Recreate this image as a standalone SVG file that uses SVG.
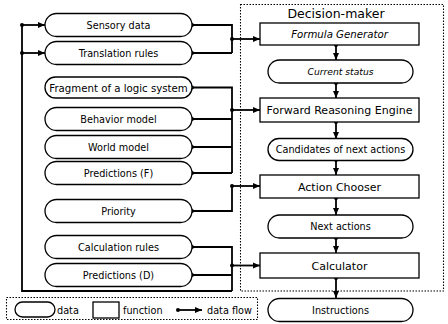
<svg xmlns="http://www.w3.org/2000/svg" width="448" height="324" viewBox="0 0 448 324">
<defs>
<marker id="arr" markerUnits="userSpaceOnUse" markerWidth="8" markerHeight="8" viewBox="0 0 8 8" refX="7" refY="4" orient="auto">
<path d="M0,1 L7,4 L0,7 Z" fill="#000"/>
</marker>
<marker id="dot" markerUnits="userSpaceOnUse" markerWidth="6" markerHeight="6" viewBox="0 0 6 6" refX="3" refY="3" orient="auto">
<circle cx="3" cy="3" r="2" fill="#000"/>
</marker>
</defs>
<style>
.data{fill:#fff;stroke:#000;stroke-width:1.3}
.func{fill:#fff;stroke:#000;stroke-width:1.3}
.t{font-family:"DejaVu Sans",sans-serif;font-size:9.7px;fill:#000;text-anchor:middle}
.tf{font-family:"DejaVu Sans",sans-serif;font-size:11px;fill:#000;text-anchor:middle}
.it{font-style:italic}
.lg{font-family:"DejaVu Sans",sans-serif;font-size:9.7px;fill:#000}
.w{fill:none;stroke:#000;stroke-width:1.8}
.f{fill:none;stroke:#000;stroke-width:1.8;marker-start:url(#dot);marker-end:url(#arr)}
.d{fill:none;stroke:#000;stroke-width:1.8;marker-start:url(#dot)}
.box{fill:none;stroke:#000;stroke-width:1.1;stroke-dasharray:1.5,1.5}
</style>
<rect width="448" height="324" fill="#fff"/>
<rect class="box" x="240.5" y="4.5" width="203" height="286.5"/>
<text x="336" y="18" font-family="DejaVu Sans,sans-serif" font-size="12.5" text-anchor="middle" fill="#000">Decision-maker</text>

<g id="connectors">
<path class="w" d="M232,291 L22,291 L22,25"/>
<path class="f" d="M22,25 L45,25"/>
<path class="f" d="M22,53 L45,53"/>
<path class="d" d="M192,25 L232,25 L232,53"/>
<path class="d" d="M192,53 L232,53"/>
<path class="f" d="M232,39 L260,39"/>
<path class="d" d="M192,87.5 L232,87.5 L232,173"/>
<path class="d" d="M192,119 L232,119"/>
<path class="d" d="M192,147 L232,147"/>
<path class="d" d="M192,173 L232,173"/>
<path class="f" d="M232,110 L260,110"/>
<path class="d" d="M192,211 L232,211 L232,186"/>
<path class="f" d="M232,186 L260,186"/>
<path class="d" d="M192,247 L232,247 L232,291"/>
<path class="d" d="M192,275 L232,275"/>
<path class="f" d="M232,265.5 L260,265.5"/>
<path class="f" d="M336,45 L336,60"/>
<path class="f" d="M336,83 L336,98"/>
<path class="f" d="M336,122 L336,139"/>
<path class="f" d="M336,160 L336,175"/>
<path class="f" d="M336,198 L336,215"/>
<path class="f" d="M336,238 L336,253"/>
<path class="f" d="M336,278 L336,298"/>
</g>

<g id="sensory-data"><rect class="data" x="45" y="13.5" width="147" height="23" rx="11.5"/><text class="t" x="118.5" y="28.5">Sensory data</text></g>
<g id="translation-rules"><rect class="data" x="45" y="41.5" width="147" height="23" rx="11.5"/><text class="t" x="118.5" y="56.5">Translation rules</text></g>
<g id="fragment"><rect class="data" x="45" y="77" width="147" height="21" rx="10.5"/><text class="t" x="118.5" y="91.5" style="font-size:10.2px">Fragment of a logic system</text></g>
<g id="behavior-model"><rect class="data" x="45" y="107.5" width="147" height="23" rx="11.5"/><text class="t" x="118.5" y="122.5">Behavior model</text></g>
<g id="world-model"><rect class="data" x="45" y="135.5" width="147" height="23" rx="11.5"/><text class="t" x="118.5" y="150.5">World model</text></g>
<g id="predictions-f"><rect class="data" x="45" y="161.5" width="147" height="23" rx="11.5"/><text class="t" x="118.5" y="176.5">Predictions (F)</text></g>
<g id="priority"><rect class="data" x="45" y="199.5" width="147" height="23" rx="11.5"/><text class="t" x="118.5" y="214.5">Priority</text></g>
<g id="calculation-rules"><rect class="data" x="45" y="235.5" width="147" height="23" rx="11.5"/><text class="t" x="118.5" y="250.5">Calculation rules</text></g>
<g id="predictions-d"><rect class="data" x="45" y="263.5" width="147" height="23" rx="11.5"/><text class="t" x="118.5" y="278.5">Predictions (D)</text></g>

<g id="formula-generator"><rect class="func" x="260" y="23" width="159" height="22"/><text class="tf it" x="339.5" y="37.5" style="font-size:10.2px">Formula Generator</text></g>
<g id="current-status"><rect class="data" x="268" y="60" width="145" height="23" rx="11.5"/><text class="t it" x="340.5" y="74.5" style="font-size:9.2px">Current status</text></g>
<g id="forward-reasoning-engine"><rect class="func" x="260" y="98" width="159" height="24"/><text class="tf" x="339.5" y="114">Forward Reasoning Engine</text></g>
<g id="candidates"><rect class="data" x="268" y="138.5" width="145" height="22" rx="11"/><text class="t" x="340.5" y="153">Candidates of next actions</text></g>
<g id="action-chooser"><rect class="func" x="260" y="175" width="159" height="23"/><text class="tf" x="339.5" y="190.5">Action Chooser</text></g>
<g id="next-actions"><rect class="data" x="268" y="215" width="145" height="23" rx="11.5"/><text class="t" x="340.5" y="230">Next actions</text></g>
<g id="calculator"><rect class="func" x="260" y="253" width="159" height="25"/><text class="tf" x="339.5" y="269.5">Calculator</text></g>
<g id="instructions"><rect class="data" x="268" y="298.5" width="145" height="23" rx="11.5"/><text class="t" x="340.5" y="313.5">Instructions</text></g>

<g id="legend">
<rect class="box" x="6.5" y="297.5" width="251" height="22"/>
<rect class="data" x="15" y="302" width="40" height="15" rx="7.5"/>
<text class="lg" x="57" y="313.5">data</text>
<rect class="func" x="93" y="302" width="26" height="16"/>
<text class="lg" x="123" y="313.5">function</text>
<path class="f" d="M178,310 L202,310"/>
<text class="lg" x="207" y="313.5">data flow</text>
</g>
</svg>
